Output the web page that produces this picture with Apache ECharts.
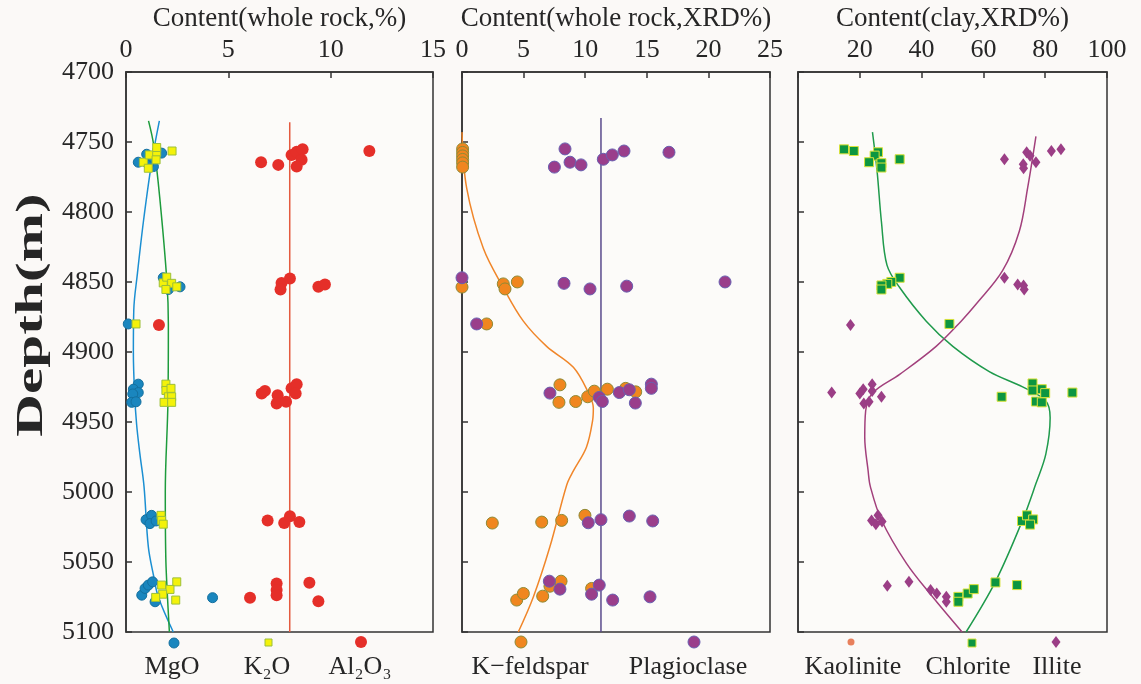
<!DOCTYPE html>
<html>
<head>
<meta charset="utf-8">
<script src="https://cdn.jsdelivr.net/npm/echarts@6/dist/echarts.min.js"></script>
<style>
  html, body { margin: 0; padding: 0; background: #fbf9f7; }
  #chart { width: 1141px; height: 684px; }
</style>
</head>
<body>
<div id="chart"></div>
<script>
// ---- depth axis ----
const depthMin = 4700;
const depthMax = 5100;
const depthStep = 50;

// ---- panel 1: whole-rock oxides (%), [value, depth] ----
const mgO = [
  [0.60, 4764.5], [1.01, 4758.8], [1.34, 4767.6], [1.74, 4758], [1.09, 4766], [1.30, 4761],
  [1.82, 4847], [2.07, 4855.4], [2.64, 4853.5],
  [0.11, 4880],
  [0.60, 4923], [0.36, 4926.6], [0.60, 4929], [0.33, 4930], [0.28, 4936], [0.49, 4935.6],
  [0.98, 5019.8], [1.25, 5016.7], [1.17, 5022.6], [1.47, 5020.7],
  [0.77, 5073.7], [0.93, 5068.9], [1.09, 5066.5], [1.30, 5064.2], [1.42, 5078.4], [4.23, 5075.5]
];
const k2O = [
  [0.85, 4764.5], [1.14, 4759.3], [1.50, 4757.4], [1.50, 4754], [1.47, 4762.8], [1.09, 4768.8], [2.25, 4756.5],
  [1.82, 4850.7], [1.99, 4846.6], [2.23, 4851], [2.48, 4853.5], [1.95, 4855.4],
  [0.49, 4880],
  [1.95, 4923], [1.95, 4927.5], [2.20, 4926], [2.07, 4932], [2.23, 4932], [1.86, 4936], [2.23, 4936],
  [1.71, 5016.7], [1.74, 5020.3], [1.82, 5023],
  [1.74, 5066.5], [2.48, 5064.2], [2.15, 5069.6], [1.79, 5073], [1.45, 5075.3], [2.43, 5077.2]
];
const al2O3 = [
  [6.60, 4764.5], [7.44, 4766.4], [8.09, 4759.3], [8.34, 4757], [8.63, 4755.3], [8.58, 4762.8], [8.34, 4767.6], [11.89, 4756.5],
  [7.60, 4850.7], [7.55, 4855.4], [8.01, 4847.6], [9.40, 4853.5], [9.72, 4851.8],
  [1.61, 4880.8],
  [6.63, 4929.6], [6.79, 4927.8], [7.41, 4931], [7.36, 4936.8], [7.82, 4935.6], [8.09, 4926], [8.34, 4923], [8.29, 4929.6],
  [6.92, 5020.3], [7.73, 5022.2], [8.01, 5017.4], [8.47, 5021.5],
  [6.06, 5075.5], [7.36, 5065.3], [7.36, 5070], [7.36, 5073.7], [8.96, 5064.9], [9.40, 5078]
];
const mgOTrend = [
  [1.63, 4735], [1.25, 4765], [0.85, 4807], [0.55, 4845], [0.38, 4870], [0.36, 4900],
  [0.42, 4930], [0.52, 4952], [0.68, 4973], [0.88, 4996], [1.09, 5039], [1.35, 5060], [1.58, 5075], [2.31, 5100]
];
const k2OTrend = [
  [1.10, 4735], [1.35, 4752], [1.65, 4790], [2.00, 4850], [2.07, 4880], [2.05, 4935],
  [1.92, 5000], [1.95, 5050], [2.12, 5100]
];
const al2O3Trend = [[8.0, 4736], [8.0, 5100]];

// ---- panel 2: whole-rock XRD (%) ----
const kFeldspar = [
  [0.05, 4755], [0.05, 4757.5], [0.05, 4760], [0.05, 4762.5], [0.05, 4765], [0.05, 4768],
  [0.0, 4853.7], [3.35, 4851.4], [3.49, 4855], [4.49, 4850],
  [2.0, 4880],
  [7.95, 4923.5], [7.87, 4936], [9.23, 4935.4], [10.2, 4932], [10.74, 4928], [11.8, 4926.6], [13.28, 4926], [14.1, 4928.5],
  [2.46, 5022.2], [6.47, 5021.5], [8.09, 5020.3], [9.98, 5016.7],
  [4.44, 5077.2], [4.98, 5072.5], [6.55, 5074.4], [7.14, 5067.3], [8.04, 5063.7], [10.52, 5068.9]
];
const plagioclase = [
  [8.36, 4755], [7.5, 4768], [8.77, 4764.5], [9.66, 4766.4], [11.47, 4762.4], [12.2, 4759.3], [13.15, 4756.5], [16.8, 4757.4],
  [0.0, 4847], [8.28, 4851], [10.39, 4855], [13.37, 4853], [21.35, 4850],
  [1.19, 4880],
  [7.14, 4929.4], [11.14, 4932.5], [11.39, 4935.4], [12.77, 4929], [13.58, 4927], [14.07, 4936.5], [15.37, 4923], [15.37, 4926],
  [10.25, 5022], [11.28, 5019.8], [13.58, 5017.2], [15.48, 5020.7],
  [7.09, 5063.7], [7.95, 5069.4], [10.52, 5073], [11.14, 5066.5], [12.23, 5077.2], [15.26, 5074.9]
];
const kFeldsparTrend = [
  [0.0, 4743], [0.38, 4783], [1.73, 4826], [3.35, 4854], [4.98, 4878], [6.87, 4896], [9.04, 4911],
  [10.25, 4929], [10.66, 4940], [10.6, 4949], [10.1, 4968], [9.04, 4985], [8.5, 4995], [7.14, 5039],
  [5.79, 5075], [4.57, 5100]
];
const plagioclaseTrend = [[11.28, 4733], [11.28, 5100]];

// ---- panel 3: clay XRD (%) ----
const chlorite = [
  [14.9, 4755.3], [18.06, 4756.5], [25.9, 4757.4], [24.8, 4759.8], [23.0, 4764.5], [27.0, 4765.2], [27.0, 4768.3], [32.9, 4762.4],
  [32.9, 4847], [30.2, 4850], [28.9, 4851.4], [27.0, 4852.5], [27.0, 4855.4],
  [49.0, 4880],
  [65.9, 4932], [75.9, 4922.5], [75.9, 4927.5], [78.9, 4926.6], [80.0, 4929.4], [77.0, 4935.4], [78.9, 4936], [88.8, 4929],
  [72.5, 5020.7], [74.1, 5016.7], [76.1, 5019.6], [75.1, 5023.3],
  [51.9, 5074.9], [51.9, 5078.4], [54.9, 5072.5], [56.9, 5069.4], [63.9, 5064.6], [70.9, 5066.5]
];
const illite = [
  [66.8, 4762.4], [74.0, 4757.4], [75.1, 4759.8], [72.9, 4766], [73.0, 4768.8], [77.0, 4764.5], [82.0, 4756.5], [85.1, 4755.3],
  [66.8, 4847], [71.1, 4851.8], [73.0, 4852.5], [73.2, 4855.4],
  [17.0, 4880.8],
  [10.9, 4929], [20.0, 4929.6], [21.1, 4926.6], [24.0, 4923], [24.0, 4927.8], [27.0, 4932], [21.3, 4936.8], [23.0, 4935.6],
  [23.8, 5020.3], [25.9, 5016.7], [25.2, 5023], [27.2, 5021],
  [28.9, 5067], [35.9, 5064.2], [42.9, 5070], [44.9, 5072.5], [48.0, 5074.9], [48.0, 5078.4]
];
const chloriteTrend = [
  [24.1, 4743], [25.6, 4771], [27.0, 4807], [28.8, 4838], [32.9, 4854], [41.5, 4878], [50.1, 4896],
  [61.9, 4914], [72.7, 4925], [80.2, 4935], [81.6, 4947], [80.2, 4973], [77.0, 4994], [72.7, 5020],
  [63.9, 5064], [54.4, 5100]
];
const illiteTrend = [
  [77.0, 4746], [74.3, 4783], [71.6, 4814], [66.2, 4842], [57.6, 4866], [52.8, 4878], [44.7, 4896],
  [32.9, 4916], [24.3, 4929], [21.9, 4942], [21.6, 4961], [22.7, 4985], [23.4, 4996], [27.0, 5020],
  [35.1, 5051], [43.6, 5075], [53.1, 5100]
];

// ---- axis titles and ranges ----
const panelTitles = ['Content(whole rock,%)', 'Content(whole rock,XRD%)', 'Content(clay,XRD%)'];
const panelMax = [15, 25, 100];
const panelStep = [5, 5, 20];
const depthTitle = 'Depth(m)';

const FONT = 'Liberation Serif';
const INK = '#262626';
const FRAME = '#333333';

const chart = echarts.init(document.getElementById('chart'), null, { renderer: 'canvas' });

const gridBoxes = [
  { left: 126, top: 70, width: 307, height: 562 },
  { left: 462, top: 70, width: 308, height: 562 },
  { left: 798, top: 70, width: 309, height: 562 }
];

const grid = gridBoxes.map(b => Object.assign({
  show: true, backgroundColor: '#fcfbf9', borderColor: FRAME, borderWidth: 1.5
}, b));

const xAxis = panelTitles.map((t, i) => ({
  type: 'value', gridIndex: i, position: 'top',
  min: 0, max: panelMax[i], interval: panelStep[i],
  name: t, nameLocation: 'middle', nameGap: 37,
  nameTextStyle: { fontFamily: FONT, fontSize: 27, color: INK },
  axisLine: { show: true, lineStyle: { color: FRAME, width: 1.5 } },
  axisTick: { show: true, inside: true, length: 6, lineStyle: { color: FRAME, width: 1.5 } },
  axisLabel: {
    fontFamily: FONT, fontSize: 26, color: INK, margin: 9,
    showMinLabel: true, showMaxLabel: true,
    formatter: v => (i === 2 && v === 0) ? '' : String(v)
  },
  splitLine: { show: false }
}));

const yAxis = panelTitles.map((t, i) => ({
  type: 'value', gridIndex: i, inverse: true,
  min: depthMin, max: depthMax, interval: depthStep,
  axisLine: { show: true, lineStyle: { color: FRAME, width: 1.5 } },
  axisTick: { show: true, inside: true, length: 6, lineStyle: { color: FRAME, width: 1.5 } },
  axisLabel: { show: i === 0, fontFamily: FONT, fontSize: 26, color: INK, margin: 12, formatter: v => String(v) },
  splitLine: { show: false }
}));

function trend(data, idx, color, width) {
  return {
    type: 'line', xAxisIndex: idx, yAxisIndex: idx, data: data,
    smooth: 0.35, showSymbol: false, silent: true, z: 2,
    lineStyle: { color: color, width: width || 1.5 }
  };
}
function dots(data, idx, symbol, size, fill, edge, edgeWidth) {
  return {
    type: 'scatter', xAxisIndex: idx, yAxisIndex: idx, data: data,
    symbol: symbol, symbolSize: size, z: 3,
    itemStyle: { color: fill, borderColor: edge || fill, borderWidth: edgeWidth || 0, opacity: 1 }
  };
}

const series = [
  trend(mgOTrend, 0, '#1b8fd2'),
  trend(k2OTrend, 0, '#1d9b3c'),
  trend(al2O3Trend, 0, '#e45a3f'),
  dots(al2O3, 0, 'circle', 12, '#e52f29'),
  dots(mgO, 0, 'circle', 10, '#1a86be', '#14709f', 1),
  dots(k2O, 0, 'rect', 8, '#f4f20a', '#9cbf3a', 1),

  trend(kFeldsparTrend, 1, '#f0862a'),
  trend(plagioclaseTrend, 1, '#5a4b8c'),
  dots(kFeldspar, 1, 'circle', 12, '#f0861f', '#8e8a35', 1),
  dots(plagioclase, 1, 'circle', 12, '#9a3e8b', '#6a5fb0', 1),

  trend(chloriteTrend, 2, '#1f9a4c'),
  trend(illiteTrend, 2, '#a2407c'),
  dots(chlorite, 2, 'rect', 9, '#0c9641', '#d9e23a', 1),
  dots(illite, 2, 'diamond', [9, 12], '#9b3e86')
];

// legend keys sit under each panel, key symbol above its label
const keyY = 642;
const labelY = 667;
const labelFont = '26px ' + FONT;
function keyText(x, text) {
  return { type: 'text', x: x, y: labelY, style: { text: text, font: labelFont, fill: INK, align: 'center', verticalAlign: 'middle' } };
}
const graphic = [
  { type: 'text', x: 32, y: 315, rotation: Math.PI / 2, scaleX: 1.6,
    style: { text: depthTitle, font: 'bold 37px ' + FONT, fill: INK, align: 'center', verticalAlign: 'middle' } },

  { type: 'circle', shape: { cx: 174, cy: keyY + 1, r: 5 }, style: { fill: '#1a86be', stroke: '#14709f', lineWidth: 1 } },
  { type: 'rect', shape: { x: 265, y: keyY - 3, width: 7, height: 7 }, style: { fill: '#f4f20a', stroke: '#9cbf3a', lineWidth: 1 } },
  { type: 'circle', shape: { cx: 361, cy: keyY, r: 6 }, style: { fill: '#e52f29' } },
  keyText(172, 'MgO'), keyText(267, 'K₂O'), keyText(360, 'Al₂O₃'),

  { type: 'circle', shape: { cx: 521, cy: keyY, r: 6 }, style: { fill: '#f0861f', stroke: '#8e8a35', lineWidth: 1 } },
  { type: 'circle', shape: { cx: 694, cy: keyY, r: 6 }, style: { fill: '#9a3e8b', stroke: '#6a5fb0', lineWidth: 1 } },
  keyText(530, 'K−feldspar'), keyText(688, 'Plagioclase'),

  { type: 'circle', shape: { cx: 851, cy: keyY, r: 3.5 }, style: { fill: '#e8805c' } },
  { type: 'rect', shape: { x: 968, y: keyY - 3, width: 8, height: 8 }, style: { fill: '#0c9641', stroke: '#d9e23a', lineWidth: 1 } },
  { type: 'polygon', shape: { points: [[1056, keyY - 6], [1060.5, keyY], [1056, keyY + 6], [1051.5, keyY]] }, style: { fill: '#9b3e86' } },
  keyText(853, 'Kaolinite'), keyText(968, 'Chlorite'), keyText(1057, 'Illite')
];

chart.setOption({
  backgroundColor: '#fbf9f7',
  animation: false,
  grid: grid,
  xAxis: xAxis,
  yAxis: yAxis,
  series: series,
  graphic: graphic
});
</script>
</body>
</html>
